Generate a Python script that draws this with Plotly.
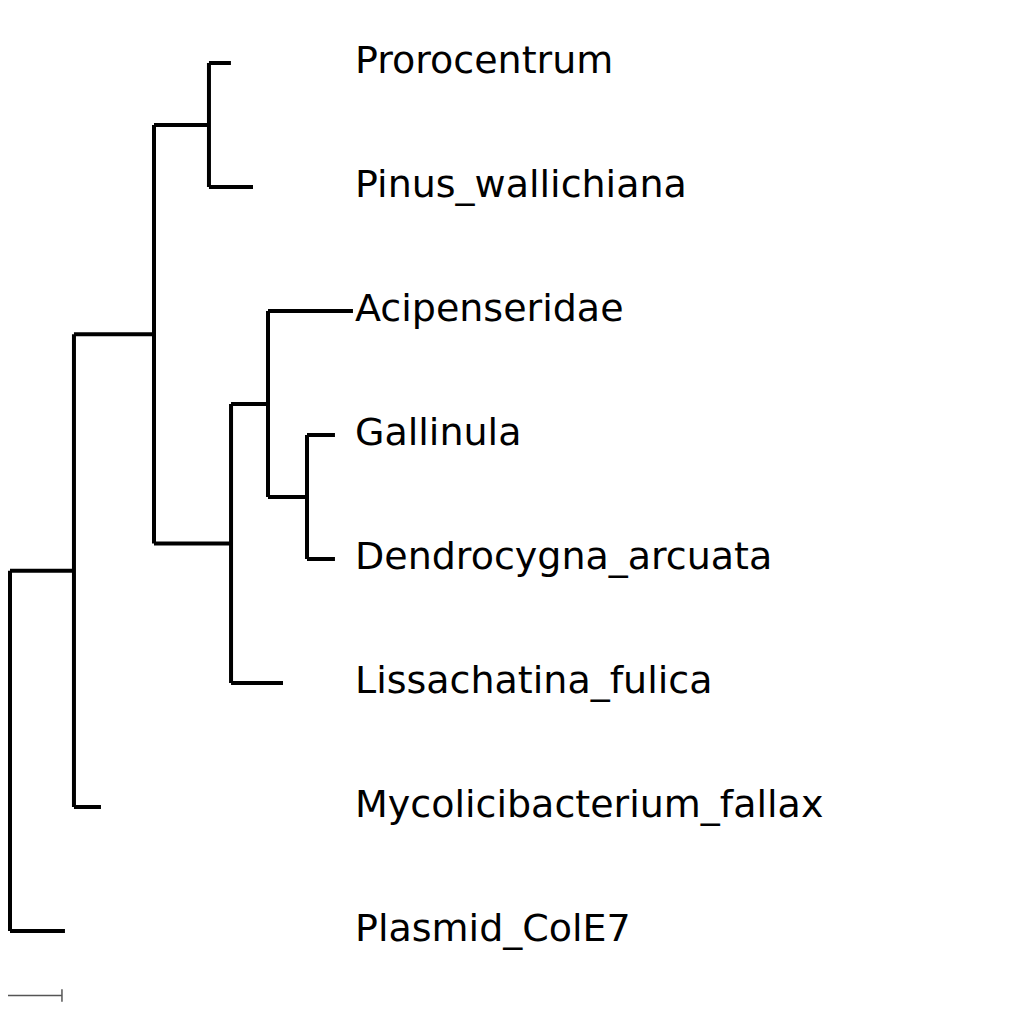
import plotly.graph_objects as go

# tree: node name, parent, branch length (units)
nodes = ["root", "Plasmid_ColE7", "A", "Mycolicibacterium_fallax", "B", "C",
         "Prorocentrum", "Pinus_wallichiana", "D", "Lissachatina_fulica", "E",
         "Acipenseridae", "F", "Gallinula", "Dendrocygna_arcuata"]
parents = [None, "root", "root", "A", "A", "B", "C", "C", "B", "D", "D", "E", "E", "F", "F"]
lengths = [0, 4.58, 5.33, 2.25, 6.67, 4.58, 1.83, 3.67, 6.42, 4.33, 3.08, 7.08, 3.25, 2.33, 2.33]
leaf_order = ["Prorocentrum", "Pinus_wallichiana", "Acipenseridae", "Gallinula",
              "Dendrocygna_arcuata", "Lissachatina_fulica", "Mycolicibacterium_fallax", "Plasmid_ColE7"]
scale_len = 5

parent = dict(zip(nodes, parents))
blen = dict(zip(nodes, lengths))
children = {n: [c for c in nodes if parent[c] == n] for n in nodes}

xpos, ypos = {}, {}
for n in nodes:  # parents listed before children
    xpos[n] = 0 if parent[n] is None else xpos[parent[n]] + blen[n]

def get_y(n):
    if n in leaf_order:
        ypos[n] = leaf_order.index(n)
    else:
        ys = [get_y(c) for c in children[n]]
        ypos[n] = (ys[0] + ys[-1]) / 2
    return ypos[n]

get_y("root")

fig = go.Figure()
lx, ly = [], []
for n in nodes:
    p = parent[n]
    if p is not None:
        lx += [xpos[p], xpos[n], None]
        ly += [ypos[n], ypos[n], None]
    if children[n]:
        cs = [ypos[c] for c in children[n]]
        lx += [xpos[n], xpos[n], None]
        ly += [min(cs), max(cs), None]
fig.add_trace(go.Scatter(x=lx, y=ly, mode="lines", line=dict(color="black", width=4),
                         hoverinfo="skip", showlegend=False))
fig.add_trace(go.Scatter(x=[-0.45], y=[ypos["root"]], mode="markers",
                         marker=dict(color="#1f3fbf", size=5), showlegend=False))
fig.add_trace(go.Scatter(x=[28.75] * len(leaf_order), y=list(range(len(leaf_order))),
                         mode="text", text=leaf_order, textposition="middle right",
                         textfont=dict(family="DejaVu Sans", size=38, color="black"),
                         showlegend=False))

# scale bar
sb_y = 7.52
fig.add_trace(go.Scatter(x=[-0.67, -0.67 + scale_len], y=[sb_y, sb_y], mode="lines",
                         line=dict(color="#555555", width=1.5), showlegend=False))
for xx in [-0.67, -0.67 + scale_len]:
    fig.add_trace(go.Scatter(x=[xx, xx], y=[sb_y - 0.05, sb_y + 0.05], mode="lines",
                             line=dict(color="#555555", width=1.5), showlegend=False))
fig.add_annotation(x=-0.75, y=sb_y + 0.04, text=str(scale_len), showarrow=False,
                   xanchor="left", yanchor="top", font=dict(family="DejaVu Serif", size=15, color="black"))

fig.update_layout(width=1024, height=1024, margin=dict(l=0, r=0, t=0, b=0),
                  plot_bgcolor="white", paper_bgcolor="white")
fig.update_xaxes(visible=False, range=[-2 / 12, 1022 / 12])
fig.update_yaxes(visible=False, range=[(1024 - 55) / 124, -55 / 124])
fig.write_html("out.html")
